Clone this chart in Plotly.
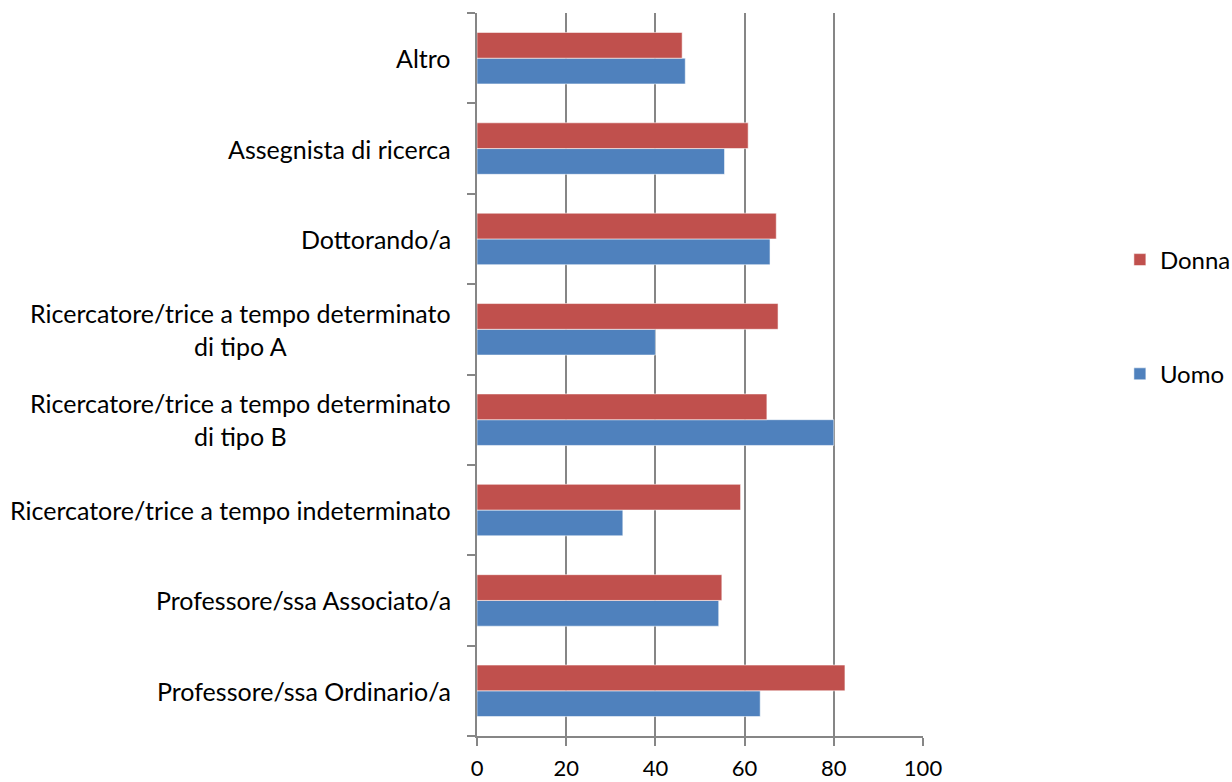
import plotly.graph_objects as go

# Staff categories, listed from top to bottom as they appear on the chart
categories = [
    "Altro",
    "Assegnista di ricerca",
    "Dottorando/a",
    "Ricercatore/trice a tempo determinato<br>di tipo A",
    "Ricercatore/trice a tempo determinato<br>di tipo B",
    "Ricercatore/trice a tempo indeterminato",
    "Professore/ssa Associato/a",
    "Professore/ssa Ordinario/a",
]

# Values per gender, same order as the categories
donna = [46.0, 60.8, 67.1, 67.5, 65.0, 59.1, 54.9, 82.5]
uomo = [46.7, 55.5, 65.7, 40.0, 80.0, 32.7, 54.2, 63.5]

x_ticks = [0, 20, 40, 60, 80, 100]

FONT = "Lato, Carlito, Calibri, sans-serif"
GRID = "#868686"
RED = "#C0504D"
BLUE = "#4F81BD"

fig = go.Figure()
fig.add_trace(go.Bar(
    y=categories, x=uomo, name="Uomo", orientation="h",
    marker=dict(color=BLUE, line=dict(color="rgba(255,255,255,0.55)", width=1)),
    legendgroup="uomo", legendrank=2,
))
fig.add_trace(go.Bar(
    y=categories, x=donna, name="Donna", orientation="h",
    marker=dict(color=RED, line=dict(color="rgba(255,255,255,0.55)", width=1)),
    legendgroup="donna", legendrank=1,
))

# Category labels, centred line by line to the left of the axis
for cat in categories:
    fig.add_annotation(
        x=0, xref="paper", y=cat, yref="y",
        text=cat, showarrow=False, xanchor="right", yanchor="middle",
        align="center", xshift=-24,
        font=dict(family=FONT, size=25, color="#000000"),
    )

fig.update_layout(
    width=1232, height=782,
    margin=dict(l=477, r=309, t=13, b=46, autoexpand=False),
    paper_bgcolor="white", plot_bgcolor="white",
    barmode="group", bargap=0.43, bargroupgap=0,
    font=dict(family=FONT, size=22, color="#000000"),
    legend=dict(
        xref="container", x=0.909, xanchor="left",
        y=0.5795, yanchor="middle",
        traceorder="grouped", tracegroupgap=80,
        font=dict(family=FONT, size=24, color="#000000"),
        bgcolor="rgba(0,0,0,0)",
    ),
    showlegend=True,
)

fig.update_xaxes(
    range=[0, 100], tickvals=x_ticks, showgrid=True, gridcolor=GRID, gridwidth=1.5,
    zeroline=False, showline=True, linecolor=GRID, linewidth=1.5,
    ticks="outside", ticklen=8, tickcolor=GRID, tickwidth=1.5,
    tickfont=dict(family=FONT, size=22, color="#000000"),
    ticklabelstandoff=4,
    fixedrange=True,
)
fig.update_yaxes(
    type="category", categoryorder="array", categoryarray=categories[::-1],
    showticklabels=False, showgrid=False, zeroline=False,
    showline=True, linecolor=GRID, linewidth=1.5,
    ticks="outside", tickson="boundaries", ticklen=8, tickcolor=GRID, tickwidth=1.5,
    fixedrange=True,
)

fig.write_html("out.html")
